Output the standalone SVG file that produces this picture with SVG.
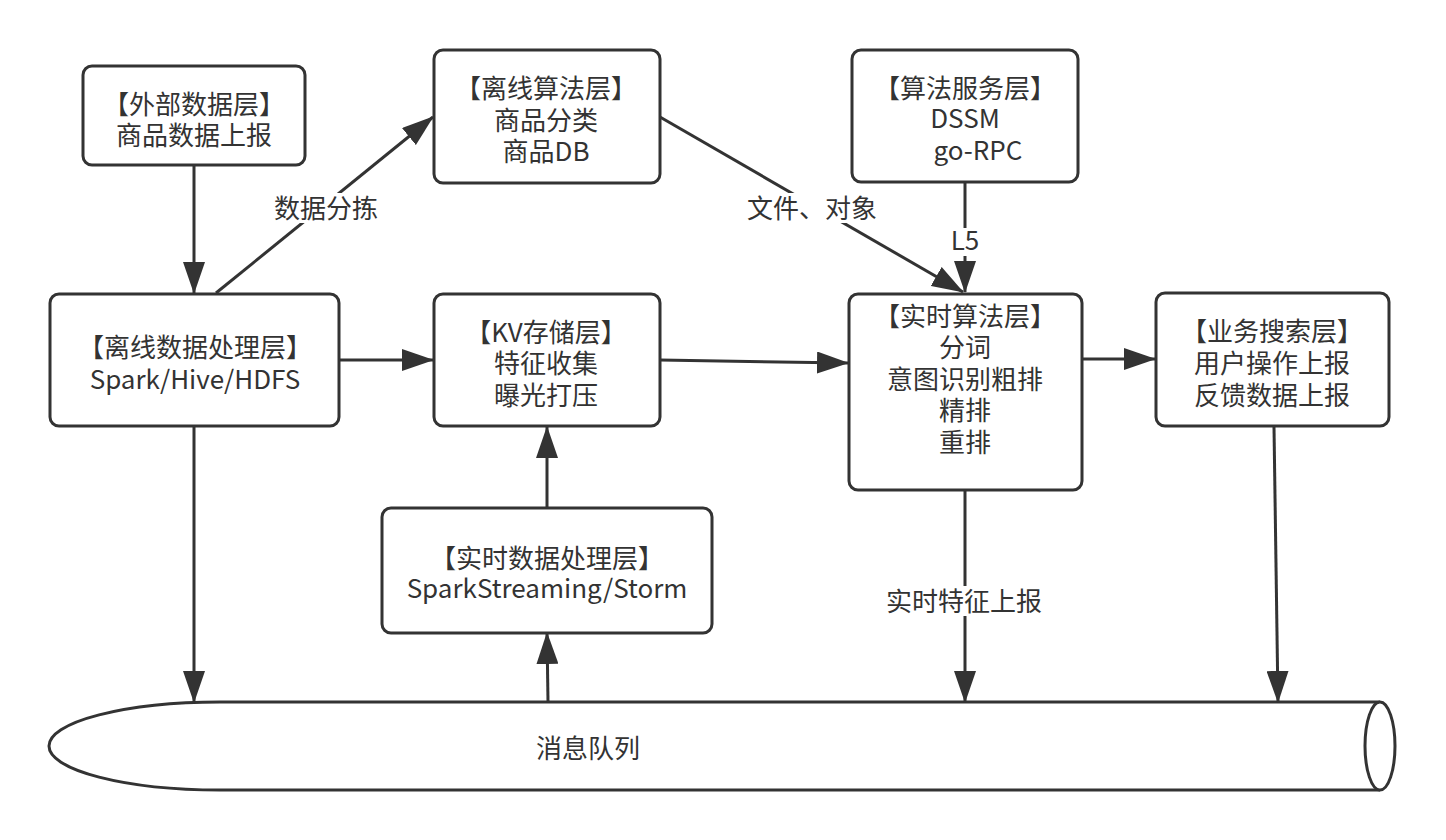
<svg xmlns="http://www.w3.org/2000/svg" width="1446" height="840" viewBox="0 0 1446 840">
<style>
.box{fill:#fff;stroke:#333;stroke-width:3}
.t{font-family:"Noto Sans CJK SC","Liberation Sans",sans-serif;font-size:26px;fill:#333;text-anchor:middle}
.edge{fill:none;stroke:#333;stroke-width:3}
.bg{fill:#fff;stroke:none}
</style>
<defs>
<marker id="arr" markerUnits="userSpaceOnUse" markerWidth="32" markerHeight="22" refX="31" refY="11" orient="auto">
<path d="M0,0 L32,11 L0,22 z" fill="#333"/>
</marker>
</defs>
<rect width="1446" height="840" fill="#fff"/>

<g id="queue">
<path class="box" d="M1380,702 L220,702 A171,44 0 0 0 220,790 L1380,790"/>
<ellipse class="box" cx="1380" cy="746" rx="15" ry="44"/>
<text class="t" x="588" y="758">消息队列</text>
</g>

<g id="connectors">
<line class="edge" x1="194" y1="165" x2="194" y2="293" marker-end="url(#arr)"/>
<line class="edge" x1="216" y1="293" x2="433" y2="117" marker-end="url(#arr)"/>
<line class="edge" x1="340" y1="360" x2="433" y2="360" marker-end="url(#arr)"/>
<line class="edge" x1="660" y1="360" x2="848" y2="363" marker-end="url(#arr)"/>
<line class="edge" x1="660" y1="117" x2="963" y2="292" marker-end="url(#arr)"/>
<line class="edge" x1="965" y1="182" x2="965" y2="292" marker-end="url(#arr)"/>
<line class="edge" x1="1082" y1="359" x2="1155" y2="359" marker-end="url(#arr)"/>
<line class="edge" x1="547" y1="507" x2="547" y2="427" marker-end="url(#arr)"/>
<line class="edge" x1="548" y1="702" x2="547" y2="633" marker-end="url(#arr)"/>
<line class="edge" x1="194" y1="427" x2="194" y2="702" marker-end="url(#arr)"/>
<line class="edge" x1="965" y1="490" x2="965" y2="702" marker-end="url(#arr)"/>
<line class="edge" x1="1274" y1="427" x2="1278" y2="702" marker-end="url(#arr)"/>
<rect class="bg" x="273" y="193" width="106" height="30"/>
<text class="t" x="326" y="218">数据分拣</text>
<rect class="bg" x="747" y="193" width="132" height="30"/>
<text class="t" x="812" y="218">文件、对象</text>
<rect class="bg" x="950" y="228" width="30" height="28"/>
<text class="t" x="965" y="250">L5</text>
<rect class="bg" x="884" y="586" width="160" height="30"/>
<text class="t" x="964" y="611">实时特征上报</text>
</g>

<g id="n-external">
<rect class="box" x="83" y="66" width="222" height="99" rx="9"/>
<text class="t" x="194" y="114">【外部数据层】</text>
<text class="t" x="194" y="145">商品数据上报</text>
</g>

<g id="n-offline-algo">
<rect class="box" x="434" y="50" width="226" height="133" rx="9"/>
<text class="t" x="546" y="98">【离线算法层】</text>
<text class="t" x="546" y="130">商品分类</text>
<text class="t" x="546" y="161">商品DB</text>
</g>

<g id="n-algo-service">
<rect class="box" x="852" y="50" width="226" height="132" rx="9"/>
<text class="t" x="965" y="98">【算法服务层】</text>
<text class="t" x="965" y="128">DSSM</text>
<text class="t" x="978" y="160">go-RPC</text>
</g>

<g id="n-offline-data">
<rect class="box" x="50" y="294" width="289" height="132" rx="9"/>
<text class="t" x="195" y="357">【离线数据处理层】</text>
<text class="t" x="195" y="389">Spark/Hive/HDFS</text>
</g>

<g id="n-kv">
<rect class="box" x="434" y="294" width="226" height="132" rx="9"/>
<text class="t" x="546" y="342">【KV存储层】</text>
<text class="t" x="546" y="373">特征收集</text>
<text class="t" x="546" y="405">曝光打压</text>
</g>

<g id="n-realtime-algo">
<rect class="box" x="849" y="294" width="233" height="196" rx="9"/>
<text class="t" x="965" y="326">【实时算法层】</text>
<text class="t" x="965" y="357">分词</text>
<text class="t" x="965" y="389">意图识别粗排</text>
<text class="t" x="965" y="420">精排</text>
<text class="t" x="965" y="452">重排</text>
</g>

<g id="n-business">
<rect class="box" x="1156" y="293" width="233" height="133" rx="9"/>
<text class="t" x="1272" y="341">【业务搜索层】</text>
<text class="t" x="1272" y="373">用户操作上报</text>
<text class="t" x="1272" y="405">反馈数据上报</text>
</g>

<g id="n-realtime-data">
<rect class="box" x="382" y="508" width="330" height="125" rx="9"/>
<text class="t" x="547" y="568">【实时数据处理层】</text>
<text class="t" x="547" y="598">SparkStreaming/Storm</text>
</g>
</svg>
